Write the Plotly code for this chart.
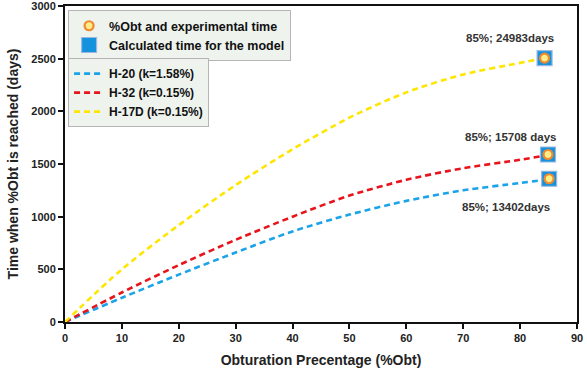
import plotly.graph_objects as go

# Data
obt_pct = [0, 10, 20, 30, 40, 50, 60, 70, 80, 85]
h20_days = [0, 230, 450, 660, 860, 1020, 1150, 1250, 1320, 1355]
h32_days = [0, 280, 540, 780, 1000, 1200, 1350, 1460, 1540, 1585]
h17d_x = [0, 10, 20, 30, 40, 50, 60, 70, 80, 84.3]
h17d_days = [0, 500, 920, 1300, 1640, 1940, 2180, 2350, 2460, 2505]

point_x = [84.3, 84.9, 85.1]
point_y = [2505, 1590, 1360]
point_labels = ["85%; 24983days", "85%; 15708 days", "85%; 13402days"]

series_names = ["H-20 (k=1.58%)", "H-32 (k=0.15%)", "H-17D (k=0.15%)"]
series_colors = ["#1AA3E8", "#E8141B", "#FFE600"]

font_family = "Liberation Sans, Arial, sans-serif"

fig = go.Figure()

for name, xs, ys, col in zip(series_names,
                             [obt_pct, obt_pct, h17d_x],
                             [h20_days, h32_days, h17d_days],
                             series_colors):
    fig.add_trace(go.Scatter(
        x=xs, y=ys, mode="lines", name=name,
        line=dict(color=col, width=2.6, dash="6px,4px", shape="spline", smoothing=0.8),
        legend="legend2",
    ))

fig.add_trace(go.Scatter(
    x=point_x, y=point_y, mode="markers", name="Calculated time for the model",
    marker=dict(symbol="square", size=15, color="#1592DD",
                line=dict(color="#9DB8E0", width=1.2)),
    legend="legend", legendrank=2,
))
fig.add_trace(go.Scatter(
    x=point_x, y=point_y, mode="markers", name="%Obt and experimental time",
    marker=dict(symbol="circle", size=9, color="#FFEE88",
                line=dict(color="#EE8A30", width=2.2)),
    legend="legend", legendrank=1,
))

ann_shifts = [(-35, 20), (-37, 18), (-43, -28)]
for x, y, t, (sx, sy) in zip(point_x, point_y, point_labels, ann_shifts):
    fig.add_annotation(x=x, y=y, text=t, showarrow=False, xshift=sx, yshift=sy,
                       font=dict(family=font_family, size=11.5, color="#333333", weight="bold"))

axis_common = dict(
    showgrid=False, zeroline=False, showline=True, linecolor="#111111", linewidth=2,
    mirror=True, ticks="outside", ticklen=5, tickwidth=1.5, tickcolor="#111111",
    automargin=False, ticklabeloverflow="allow",
    tickfont=dict(family=font_family, size=11, color="#222222", weight="bold"),
)

fig.update_layout(
    width=587, height=378,
    margin=dict(l=65, r=10, t=6, b=56),
    paper_bgcolor="white", plot_bgcolor="white",
    xaxis=dict(range=[0, 90], dtick=10, **axis_common,
               title=dict(text="Obturation Precentage (%Obt)", standoff=12,
                          font=dict(family=font_family, size=14, color="#222222", weight="bold"))),
    yaxis=dict(range=[0, 3000], dtick=500, **axis_common,
               title=dict(text="Time when %Obt is reached (days)", standoff=9,
                          font=dict(family=font_family, size=14, color="#222222", weight="bold"))),
    legend=dict(x=0.006, y=0.987, xanchor="left", yanchor="top",
                bgcolor="#EEF3EE", bordercolor="#B5B5B5", borderwidth=1,
                font=dict(family=font_family, size=12.5, color="#111111", weight="bold"),
                tracegroupgap=0, itemwidth=30),
    legend2=dict(x=0.006, y=0.835, xanchor="left", yanchor="top",
                 bgcolor="#EEF3EE", bordercolor="#B5B5B5", borderwidth=1,
                 font=dict(family=font_family, size=12, color="#111111", weight="bold"),
                 tracegroupgap=0, itemwidth=30),
    showlegend=True,
)

fig.write_html("out.html", config={"displayModeBar": False},
               post_script="document.body.style.margin='0';document.body.style.padding='0';document.body.style.overflow='hidden';")
